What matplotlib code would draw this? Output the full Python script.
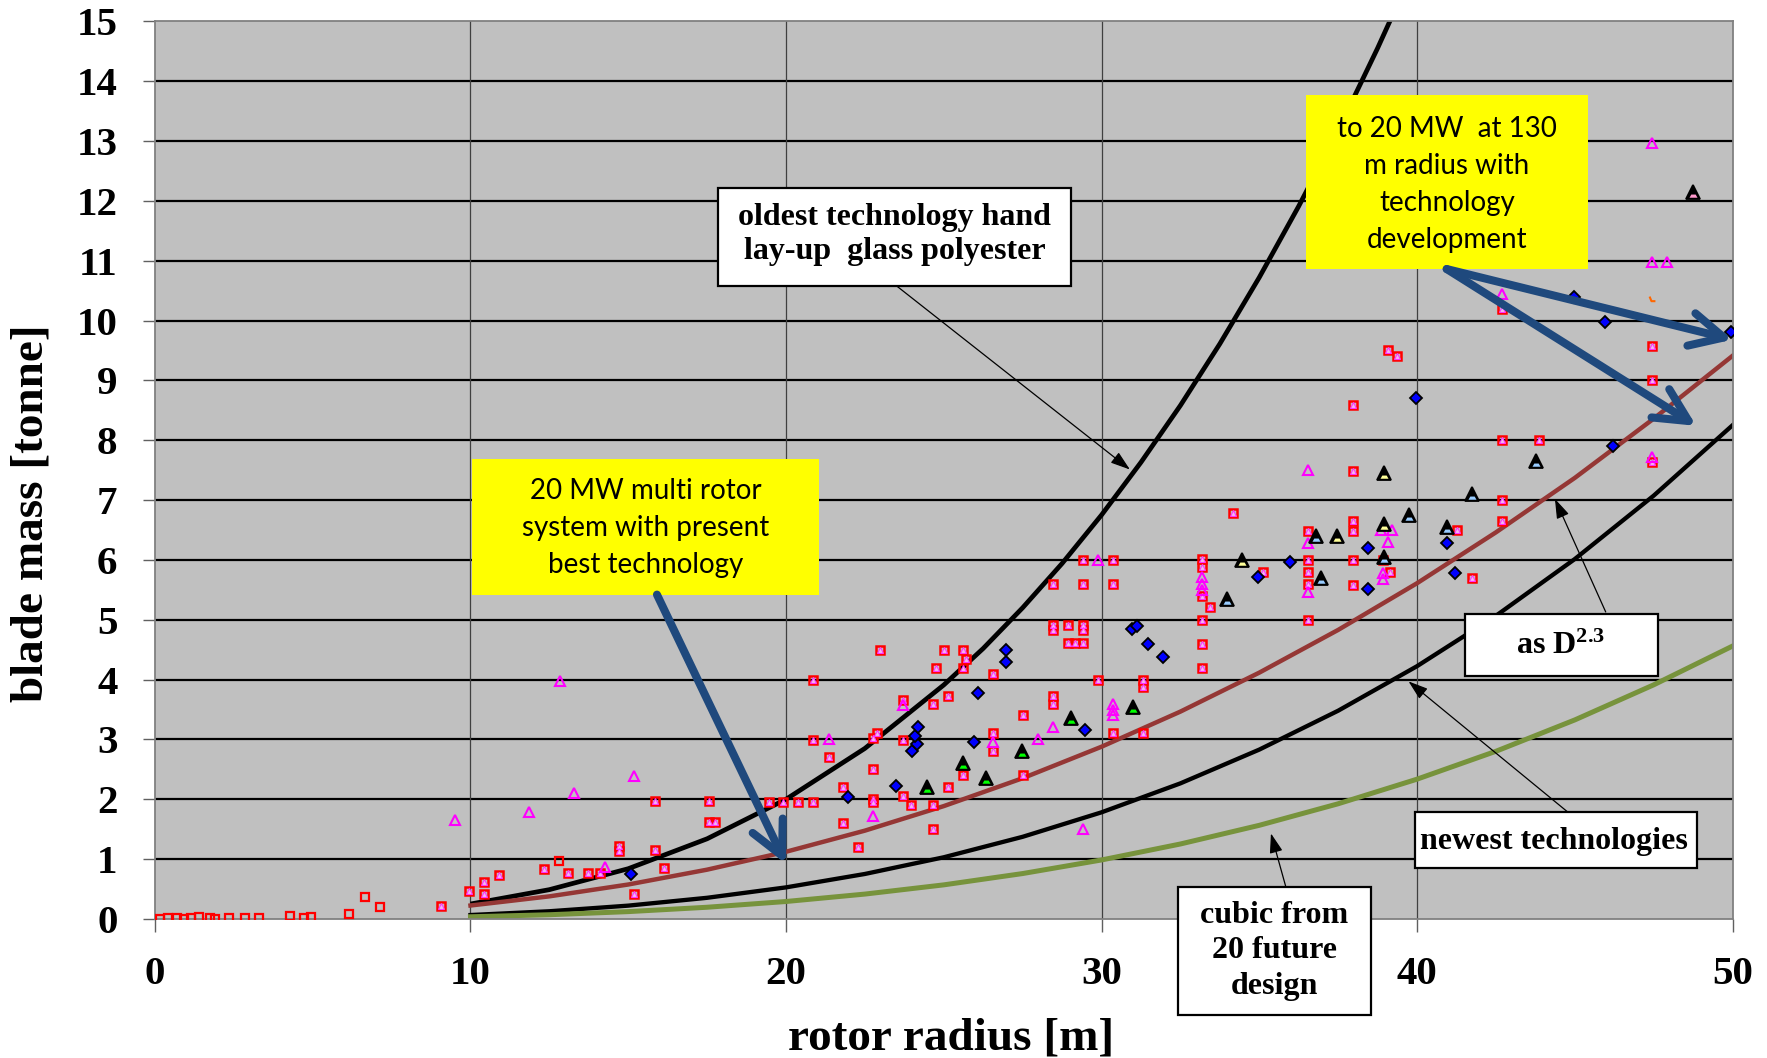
import matplotlib.pyplot as plt
from matplotlib.patches import Rectangle
from matplotlib.path import Path

plt.rcParams['font.family'] = 'Liberation Serif'
plt.rcParams['font.weight'] = 'bold'
plt.rcParams['mathtext.fontset'] = 'custom'
plt.rcParams['mathtext.rm'] = 'Liberation Serif:bold'
plt.rcParams['mathtext.it'] = 'Liberation Serif:bold'
plt.rcParams['mathtext.bf'] = 'Liberation Serif:bold'

# trend curves: blade mass [t] against rotor radius [m]
curve_r = [10, 12.5, 15, 17.5, 20, 22.5, 25, 27.5, 30, 32.5, 35, 37.5, 40, 42.5, 45, 47.5, 50]
d23_m = [0.225, 0.378, 0.576, 0.824, 1.123, 1.476, 1.886, 2.352, 2.878, 3.465, 4.116,
         4.83, 5.61, 6.46, 7.37, 8.36, 9.41]
newest_m = [0.066, 0.129, 0.223, 0.354, 0.528, 0.752, 1.031, 1.373, 1.782, 2.266, 2.830,
            3.480, 4.224, 5.066, 6.014, 7.073, 8.25]
cubic_m = [0.037, 0.071, 0.123, 0.196, 0.292, 0.416, 0.570, 0.759, 0.986, 1.253, 1.565,
           1.925, 2.336, 2.802, 3.326, 3.912, 4.56]
oldest_r = [10, 12.5, 15, 17.5, 20, 22.5, 25, 26.25, 27.5, 28.75, 30, 31.25, 32.5, 33.75,
            35, 36.25, 37.5, 38.75, 40]
oldest_m = [0.25, 0.49, 0.84, 1.34, 2.0, 2.85, 3.91, 4.52, 5.2, 5.94, 6.75, 7.63, 8.58, 9.61,
            10.72, 11.91, 13.18, 14.55, 16.0]

# blade data (radius, mass)
small_blades = [(0.16, 0.0), (0.42, 0.02), (0.69, 0.02), (0.93, 0.0), (1.15, 0.02),
                (1.39, 0.03), (1.73, 0.02), (1.90, 0.0), (2.36, 0.02), (2.85, 0.02),
                (3.31, 0.02), (4.27, 0.05), (4.73, 0.02), (4.95, 0.03), (6.16, 0.08),
                (6.65, 0.37), (7.12, 0.2), (12.8, 0.97)]
glass_blades = [(9.06, 0.22), (9.96, 0.46), (10.44, 0.61), (10.44, 0.42), (10.9, 0.74),
                (12.33, 0.84), (13.09, 0.76), (13.73, 0.76), (14.1, 0.76), (14.71, 1.22),
                (14.71, 1.13), (15.18, 0.42), (15.85, 1.15), (16.12, 0.86), (15.85, 1.97),
                (17.55, 1.97), (17.55, 1.62), (17.75, 1.62), (19.46, 1.96), (19.91, 1.96),
                (20.39, 1.96), (20.87, 1.96), (20.87, 2.99), (21.35, 2.70), (21.82, 2.20),
                (21.82, 1.61), (22.29, 1.21), (22.76, 2.50), (22.76, 2.01), (22.76, 1.95),
                (20.87, 4.0), (22.76, 3.02), (22.87, 3.10), (22.98, 4.49), (23.72, 3.66),
                (23.72, 2.99), (23.72, 2.06), (23.95, 1.90), (24.67, 3.59), (24.67, 1.90),
                (24.67, 1.51), (24.75, 4.2), (25.0, 4.49), (25.15, 3.73), (25.15, 2.20),
                (25.62, 4.49), (25.7, 4.34), (25.62, 4.2), (25.62, 2.41), (26.56, 4.09),
                (26.56, 3.10), (26.56, 2.81), (27.52, 3.40), (27.52, 2.41), (28.47, 4.91),
                (28.47, 4.83), (28.47, 3.73), (28.47, 3.59), (28.93, 4.91), (28.93, 4.61),
                (29.16, 4.61), (29.42, 4.91), (29.42, 4.83), (29.42, 4.61), (29.42, 6.0),
                (30.36, 6.0), (28.47, 5.59), (29.42, 5.59), (30.36, 5.59), (29.9, 4.0),
                (30.35, 3.10), (31.3, 4.0), (31.3, 3.88), (31.3, 3.10), (33.2, 6.01),
                (33.2, 5.88), (33.2, 5.39), (33.2, 5.0), (33.2, 4.6), (33.2, 4.19),
                (33.44, 5.22), (34.16, 6.79), (35.11, 5.8), (36.53, 6.49), (36.53, 6.0),
                (36.53, 5.8), (36.53, 5.6), (36.53, 5.0), (37.96, 8.59), (37.96, 7.49),
                (37.96, 6.65), (37.96, 6.49), (37.96, 6.0), (37.96, 5.58), (38.91, 6.0),
                (39.14, 5.8), (39.08, 9.5), (39.37, 9.4), (41.28, 6.5), (41.74, 5.69),
                (42.7, 10.2), (42.7, 8.0), (43.87, 8.0), (42.7, 7.0), (42.7, 6.65),
                (47.45, 9.58), (47.45, 9.0), (47.45, 7.64)]
resin_blades = [(9.5, 1.65), (11.86, 1.79), (12.84, 3.98), (13.28, 2.10), (14.25, 0.87),
                (15.18, 2.39), (21.35, 3.0), (22.76, 1.72), (23.72, 3.58), (26.56, 2.96),
                (28.0, 3.0), (28.47, 3.2), (29.42, 1.5), (29.9, 6.0), (30.35, 3.6),
                (30.35, 3.5), (30.35, 3.4), (33.2, 5.71), (33.2, 5.6), (33.2, 5.5),
                (36.53, 7.5), (36.53, 6.29), (36.53, 5.47), (38.85, 6.5), (39.2, 6.5),
                (39.09, 6.3), (38.91, 5.78), (38.91, 5.68), (42.7, 10.45), (47.45, 12.97),
                (47.45, 10.97), (47.93, 10.97), (47.45, 7.72)]
carbon_blades = [(15.08, 0.75), (21.98, 2.03), (23.49, 2.23), (23.98, 2.8), (24.14, 2.92),
                 (24.09, 3.05), (24.17, 3.2), (25.97, 2.95), (26.08, 3.77), (26.97, 4.49),
                 (26.97, 4.30), (29.47, 3.15), (30.96, 4.84), (31.11, 4.9), (31.48, 4.59),
                 (31.96, 4.37), (34.97, 5.72), (35.97, 5.96), (38.46, 6.2), (38.46, 5.52),
                 (39.96, 8.7), (40.96, 6.28), (41.2, 5.78), (44.96, 10.4), (45.96, 9.97),
                 (46.2, 7.9), (49.95, 9.8)]
green_blades = [(24.46, 2.2), (25.62, 2.6), (26.35, 2.35), (27.47, 2.8), (29.03, 3.35),
                (31.0, 3.55)]
blue_blades = [(33.97, 5.35), (36.79, 6.4), (36.96, 5.7), (39.76, 6.75), (40.96, 6.55),
               (41.74, 7.1), (43.76, 7.65), (38.96, 6.05)]
yellow_blades = [(34.46, 6.0), (37.45, 6.4), (38.96, 7.45), (38.96, 6.6)]
pink_blades = [(48.74, 12.15)]
odd_blades = [(47.45, 10.36)]

xticks = [0, 10, 20, 30, 40, 50]
yticks = list(range(0, 16))

fig = plt.figure(figsize=(17.67, 10.58), dpi=100)
ax = fig.add_axes([0.0877, 0.1314, 0.8928, 0.8485])
ax.set_facecolor('#C0C0C0')
ax.set_xlim(0, 50)
ax.set_ylim(0, 15)
ax.set_xticks(xticks)
ax.set_yticks(yticks)
ax.tick_params(axis='x', direction='out', length=9.5, width=1, color='#606060',
               labelsize=29.5, pad=17)
ax.tick_params(axis='y', direction='out', length=9, width=1, color='#606060',
               labelsize=29.5, pad=18)
for s in ax.spines.values():
    s.set_color('#808080')
    s.set_linewidth(1.3)

for yv in yticks[1:-1]:
    ax.axhline(yv, color='black', lw=1.6, zorder=1)
for xv in xticks[1:-1]:
    ax.axvline(xv, color='#404040', lw=0.9, zorder=1)

# trend curves
ax.plot(oldest_r, oldest_m, color='black', lw=3.4, zorder=2, solid_capstyle='butt')
ax.plot(curve_r, d23_m, color='#953735', lw=3.2, zorder=2)
ax.plot(curve_r, newest_m, color='black', lw=3.1, zorder=2)
ax.plot(curve_r, cubic_m, color='#77933C', lw=3.6, zorder=2)


def pts(data):
    return [p[0] for p in data], [p[1] for p in data]


# coloured foot inside the black triangles
band = Path([(-0.55, -0.72), (0.55, -0.72), (0.3, -0.28), (-0.3, -0.28), (0, 0), (0, 1)],
            [Path.MOVETO, Path.LINETO, Path.LINETO, Path.LINETO, Path.CLOSEPOLY, Path.MOVETO])
hook = Path([(-0.7, 0.7), (-0.25, -0.4), (0.7, -0.4), (0, 1)],
            [Path.MOVETO, Path.LINETO, Path.LINETO, Path.MOVETO])

x, y = pts(small_blades)
ax.plot(x, y, 's', ms=6.3, mfc='none', mec='#FF0000', mew=1.6, zorder=3)
x, y = pts(glass_blades)
ax.plot(x, y, 's', ms=6.3, mfc='none', mec='#FF0000', mew=1.8, zorder=3)
ax.plot(x, y, '^', ms=4, mfc='#F0B8F0', mec='#FF33FF', mew=0.8, zorder=3)
x, y = pts(resin_blades)
ax.plot(x, y, '^', ms=6.8, mfc='none', mec='#FF00FF', mew=1.5, zorder=3)
x, y = pts(carbon_blades)
ax.plot(x, y, 'D', ms=6, mfc='#0000FF', mec='black', mew=1.3, zorder=4)
for data, c in [(green_blades, '#00FF00'), (blue_blades, '#99CCFF'),
                (yellow_blades, '#FFFF99'), (pink_blades, '#FF99CC')]:
    x, y = pts(data)
    ax.plot(x, y, '^', ms=10.5, mfc='black', mec='black', mew=1.3, zorder=4)
    ax.plot(x, y, marker=band, ls='none', ms=10.5, mfc=c, mec='none', zorder=4)
x, y = pts(odd_blades)
ax.plot(x, y, marker=hook, ls='none', ms=6, mfc='none', mec='#FF6600', mew=1.5, zorder=3)


def label_box(x0, y0, x1, y1, face, edge):
    ax.add_patch(Rectangle((x0, y0), x1 - x0, y1 - y0, facecolor=face,
                           edgecolor=edge, lw=1.6, zorder=6, clip_on=False))


label_box(17.86, 10.58, 29.02, 12.22, 'white', 'black')
ax.text(23.45, 11.43, 'oldest technology hand\nlay-up  glass polyester', ha='center',
        va='center', fontsize=23, linespacing=1.23, zorder=7)

label_box(41.51, 4.06, 47.65, 5.09, 'white', 'black')
ax.text(44.55, 4.55, r'as D$^{2.3}$', ha='center', va='center', fontsize=23, zorder=7)

label_box(39.94, 0.86, 48.88, 1.79, 'white', 'black')
ax.text(44.35, 1.3, 'newest technologies', ha='center', va='center', fontsize=23, zorder=7)

label_box(32.41, -1.6, 38.55, 0.54, 'white', 'black')
ax.text(35.48, -0.53, 'cubic from\n20 future\ndesign', ha='center', va='center',
        fontsize=23, linespacing=1.3, zorder=7, clip_on=False)

label_box(36.48, 10.86, 45.42, 13.77, '#FFFF00', 'none')
ax.text(40.95, 12.27, 'to 20 MW  at 130\nm radius with\ntechnology\ndevelopment',
        ha='center', va='center', fontsize=20, family='Lato', weight='normal',
        linespacing=1.52, zorder=7)

label_box(10.05, 5.42, 21.05, 7.68, '#FFFF00', 'none')
ax.text(15.55, 6.53, '20 MW multi rotor\nsystem with present\nbest technology',
        ha='center', va='center', fontsize=20, family='Lato', weight='normal',
        linespacing=1.52, zorder=7)

# pointers from the notes to the curves
thin = dict(arrowstyle='-|>,head_length=1.2,head_width=0.4', color='black', lw=0.9,
            mutation_scale=10, shrinkA=0, shrinkB=0)
for tail, head in [((23.5, 10.58), (30.9, 7.51)), ((45.98, 5.13), (44.37, 7.02)),
                   ((44.77, 1.79), (39.73, 3.97)), ((35.84, 0.54), (35.37, 1.43))]:
    ax.annotate('', xy=head, xytext=tail, arrowprops=thin, zorder=5)

wide = dict(arrowstyle='->,head_length=1.2,head_width=0.6', color='#1F497D', lw=5.8,
            mutation_scale=20, shrinkA=0, shrinkB=0)
for tail, head in [((15.91, 5.42), (20.0, 0.92)), ((40.94, 10.86), (50.0, 9.68)),
                   ((40.94, 10.86), (48.85, 8.24))]:
    ax.annotate('', xy=head, xytext=tail, arrowprops=wide, zorder=8)

fig.text(0.0178, 0.515, 'blade mass [tonne]', rotation=90, ha='center', va='center',
         fontsize=34)
fig.text(0.538, 0.0076, 'rotor radius [m]', ha='center', va='baseline', fontsize=34)

fig.savefig('out.png', dpi=100)
